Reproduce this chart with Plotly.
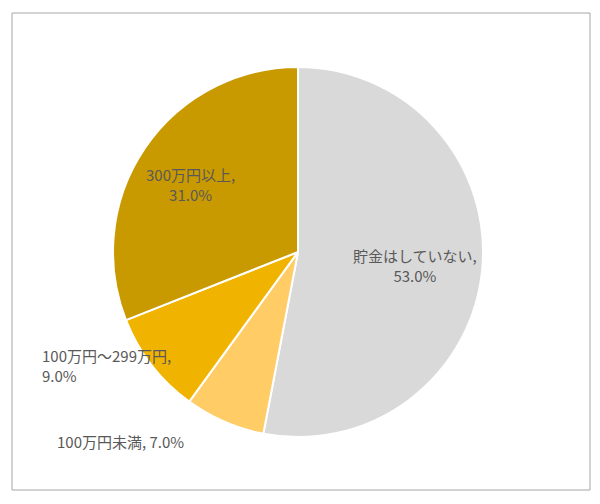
import plotly.graph_objects as go

labels = ['貯金はしていない', '100万円未満', '100万円～299万円', '300万円以上']
values = [53.0, 7.0, 9.0, 31.0]
colors = ['#D9D9D9', '#FFCC66', '#F0B400', '#C99A00']

W, H, OFF = 584, 488, 8


def px(x):
    return (x - OFF) / W


def py(y):
    return 1 - (y - OFF) / H


fig = go.Figure()
fig.add_trace(go.Pie(
    labels=labels, values=values, sort=False, direction='clockwise', rotation=0,
    marker=dict(colors=colors, line=dict(color='white', width=2)),
    textinfo='none', hoverinfo='label+percent', showlegend=False,
    domain=dict(x=[px(113), px(483)], y=[py(437), py(67)])
))

font = dict(family='Noto Sans CJK JP', size=15, color='#595959')
ann = [
    dict(x=px(415), y=py(265), text=f'{labels[0]},<br>{values[0]:.1f}%', align='center', xanchor='center'),
    dict(x=px(190), y=py(185), text=f'{labels[3]},<br>{values[3]:.1f}%', align='center', xanchor='center'),
    dict(x=px(40), y=py(365), text=f'{labels[2]},<br>{values[2]:.1f}%', align='left', xanchor='left'),
    dict(x=px(55), y=py(441), text=f'{labels[1]}, {values[1]:.1f}%', align='left', xanchor='left'),
]
for a in ann:
    a.update(xref='paper', yref='paper', showarrow=False, font=font, yanchor='middle')

fig.update_layout(
    width=W, height=H, margin=dict(l=0, r=0, t=0, b=0),
    paper_bgcolor='white', plot_bgcolor='white',
    annotations=ann,
    shapes=[dict(type='rect', xref='paper', yref='paper', x0=px(12), x1=px(590), y0=py(490), y1=py(13),
                 line=dict(color='#A6A6A6', width=1))]
)
fig.write_html('out.html')
